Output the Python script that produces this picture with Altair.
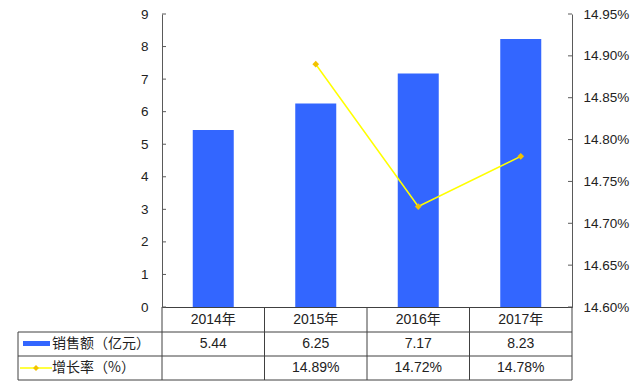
import altair as alt
import pandas as pd

years = ["2014年", "2015年", "2016年", "2017年"]
sales = [5.44, 6.25, 7.17, 8.23]
growth = [None, 14.89, 14.72, 14.78]
sales_labels = ["5.44", "6.25", "7.17", "8.23"]
growth_labels = ["", "14.89%", "14.72%", "14.78%"]
left_ticks = [0, 1, 2, 3, 4, 5, 6, 7, 8, 9]
right_ticks = [14.60, 14.65, 14.70, 14.75, 14.80, 14.85, 14.90, 14.95]
row_names = ["销售额（亿元）", "增长率（%）"]

W, H = 410, 293
FONT = "Liberation Sans, Arial, Noto Sans CJK SC"
CJK = "Noto Sans CJK SC, Liberation Sans"
AXC = "#5a5a5a"
TBL = "#404040"
BLUE = "#3366ff"
YEL = "#ffff00"
GOLD = "#f2c200"

df = pd.DataFrame({"year": years, "sales": sales, "growth": growth,
                   "sl": sales_labels, "gl": growth_labels})
gdf = df.dropna(subset=["growth"])
lt = pd.DataFrame({"v": left_ticks})
rt = pd.DataFrame({"v": right_ticks})
one = pd.DataFrame({"a": [0]})

xenc = alt.X("year:N", sort=years,
             scale=alt.Scale(paddingInner=0.6, paddingOuter=0.3),
             axis=alt.Axis(labels=False, ticks=False, title=None,
                           domainColor=TBL, domainWidth=1))

yleft = alt.Scale(domain=[0, 9], nice=False, zero=True)
yright = alt.Scale(domain=[14.60, 14.95], nice=False, zero=False)

left_axis = alt.Axis(values=left_ticks, title=None, ticks=False,
                     domainColor=AXC, labelPadding=14, labelFontSize=13.5,
                     labelFont=FONT, labelColor="#222", labelOverlap=False)
right_axis = alt.Axis(orient="right", values=right_ticks, title=None,
                      ticks=False, domainColor=AXC, labelPadding=11,
                      labelFontSize=13.5, labelFont=FONT, labelColor="#222",
                      labelOverlap=False,
                      labelExpr="format(datum.value, '.2f') + '%'")

bars = alt.Chart(df).mark_bar(color=BLUE).encode(
    x=xenc,
    y=alt.Y("sales:Q", scale=yleft, axis=left_axis),
)
lticks = alt.Chart(lt).mark_rule(color=AXC).encode(
    y=alt.Y("v:Q", scale=yleft, axis=left_axis), x=alt.value(0), x2=alt.value(4))
left_group = alt.layer(bars, lticks)

line = alt.Chart(gdf).mark_line(color=YEL, strokeWidth=1.5).encode(
    x=alt.X("year:N", sort=years),
    y=alt.Y("growth:Q", scale=yright, axis=right_axis),
)
pts = alt.Chart(gdf).mark_point(shape="diamond", filled=True, size=45,
                                color=GOLD, opacity=1).encode(
    x=alt.X("year:N", sort=years),
    y=alt.Y("growth:Q", scale=yright, axis=right_axis))
rticks = alt.Chart(rt).mark_rule(color=AXC).encode(
    y=alt.Y("v:Q", scale=yright, axis=right_axis),
    x=alt.value(W - 4), x2=alt.value(W))
right_group = alt.layer(line, pts, rticks)

# table text
ty = alt.Chart(df).mark_text(fontSize=14, font=FONT, color="#222").encode(
    x=alt.X("year:N", sort=years), y=alt.value(306), text="year:N")
ts = alt.Chart(df).mark_text(fontSize=14, font=FONT, color="#222").encode(
    x=alt.X("year:N", sort=years), y=alt.value(330), text="sl:N")
tg = alt.Chart(df).mark_text(fontSize=14, font=FONT, color="#222").encode(
    x=alt.X("year:N", sort=years), y=alt.value(354), text="gl:N")

names = pd.DataFrame({"n": row_names, "yy": [330, 354]})
tn = alt.Chart(names).mark_text(fontSize=14, font=CJK, color="#222",
                                align="left").encode(
    x=alt.value(-110), y=alt.Y("yy:Q", scale=None), text="n:N")

# table grid
def hline(y, x0, x1):
    return alt.Chart(one).mark_rule(color=TBL, strokeWidth=1).encode(
        x=alt.value(x0), x2=alt.value(x1), y=alt.value(y))

def vline(x, y0, y1):
    return alt.Chart(one).mark_rule(color=TBL, strokeWidth=1).encode(
        x=alt.value(x), y=alt.value(y0), y2=alt.value(y1))

step = W / 4
grid = [hline(318, -144, W), hline(342, -144, W), hline(366, -144, W),
        vline(-144, 318, 366)]
grid += [vline(i * step, H, 366) for i in range(5)]

sw = alt.Chart(one).mark_rect(color=BLUE).encode(
    x=alt.value(-139), x2=alt.value(-112), y=alt.value(327), y2=alt.value(332))
yl = alt.Chart(one).mark_rule(color=YEL, strokeWidth=1.5).encode(
    x=alt.value(-142), x2=alt.value(-110), y=alt.value(354))
yd = alt.Chart(one).mark_point(shape="diamond", filled=True, size=35,
                               color=GOLD, opacity=1).encode(
    x=alt.value(-126), y=alt.value(354))

chart = alt.layer(left_group, right_group, ty, ts, tg, tn, sw, yl, yd, *grid
                  ).resolve_scale(y="independent").properties(
    width=W, height=H,
    autosize=alt.AutoSizeParams(type="none"),
    padding={"left": 154, "top": 6, "right": 60, "bottom": 75},
    background="white",
).configure_view(strokeWidth=0).configure_axis(grid=False)

chart.save("out.html", embed_options={"renderer": "svg", "actions": False})
